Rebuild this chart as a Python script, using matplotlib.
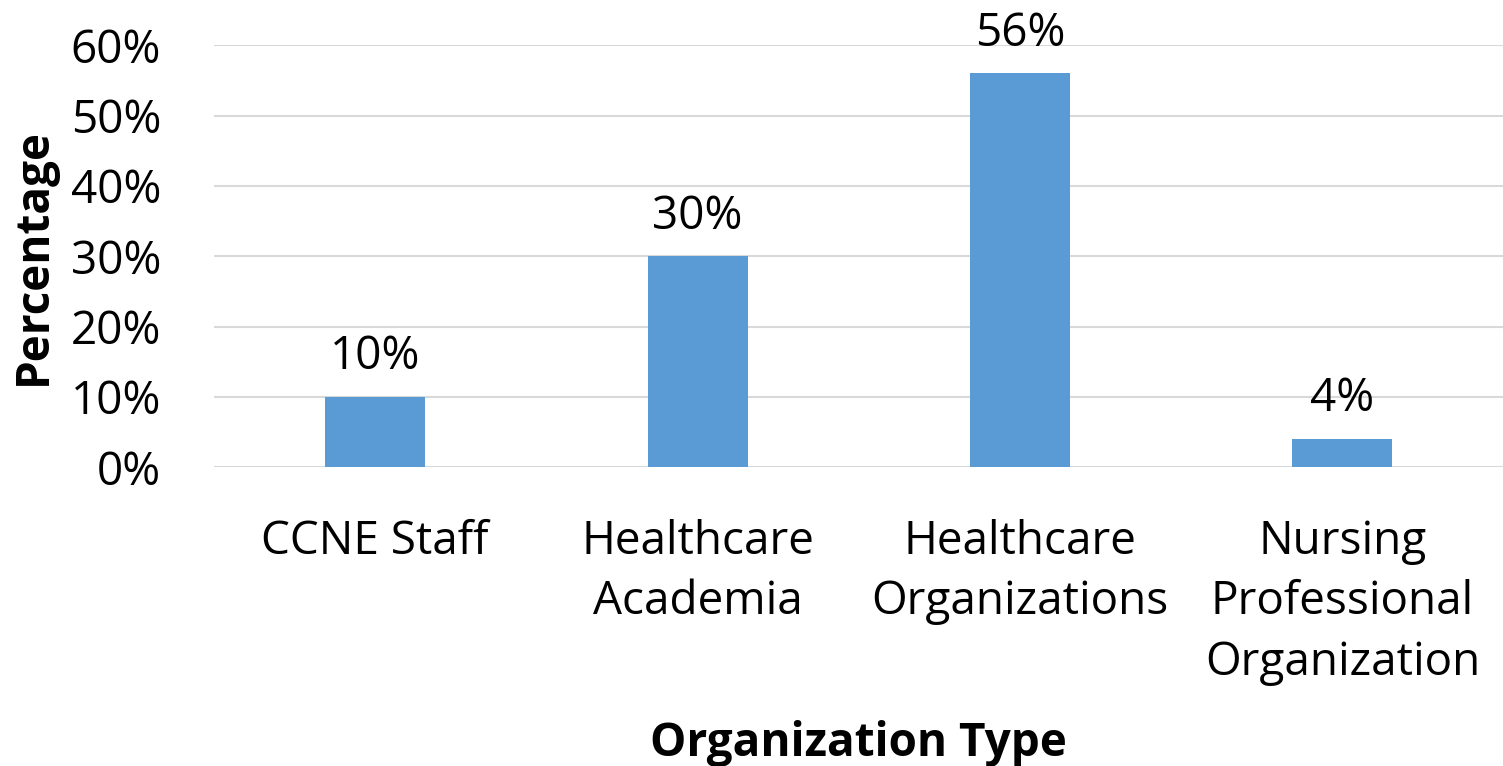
import matplotlib
matplotlib.use("Agg")
import matplotlib.pyplot as plt
from matplotlib.ticker import PercentFormatter

# survey share by organization type
categories = ["CCNE Staff", "Healthcare\nAcademia", "Healthcare\nOrganizations",
              "Nursing\nProfessional\nOrganization"]
values = [10, 30, 56, 4]
yticks = [0, 10, 20, 30, 40, 50, 60]

plt.rcParams['font.family'] = ['Open Sans', 'DejaVu Sans']

fig = plt.figure(figsize=(15.03, 7.66), dpi=100)
ax = fig.add_axes([0.1424, 0.390, 0.858, 0.551])

x = range(len(categories))
bars = ax.bar(x, values, width=0.31, color="#5B9BD5", zorder=3)

for b, v in zip(bars, values):
    ax.annotate(f"{v}%", (b.get_x() + b.get_width() / 2, v),
                xytext=(0, 12), textcoords="offset points",
                ha="center", va="bottom", fontsize=33, color="#000000")

ax.set_xlim(-0.5, len(categories) - 0.5)
ax.set_ylim(0, 60)
ax.set_yticks(yticks)
ax.yaxis.set_major_formatter(PercentFormatter(decimals=0))
ax.set_xticks(list(x))
ax.set_xticklabels(categories, linespacing=1.42)
ax.grid(axis="y", color="#D9D9D9", linewidth=1.5, zorder=0)
ax.tick_params(axis="both", length=0, labelsize=33, colors="#000000")
ax.tick_params(axis="x", pad=37)
ax.tick_params(axis="y", pad=38)
for s in ax.spines.values():
    s.set_visible(False)

ax.set_xlabel("Organization Type", fontsize=33, fontweight="bold")
ax.xaxis.set_label_coords(0.5, -0.6)
ax.set_ylabel("Percentage", fontsize=33, fontweight="bold")
ax.yaxis.set_label_coords(-0.122, 0.5)

fig.savefig("out.png", dpi=100)
